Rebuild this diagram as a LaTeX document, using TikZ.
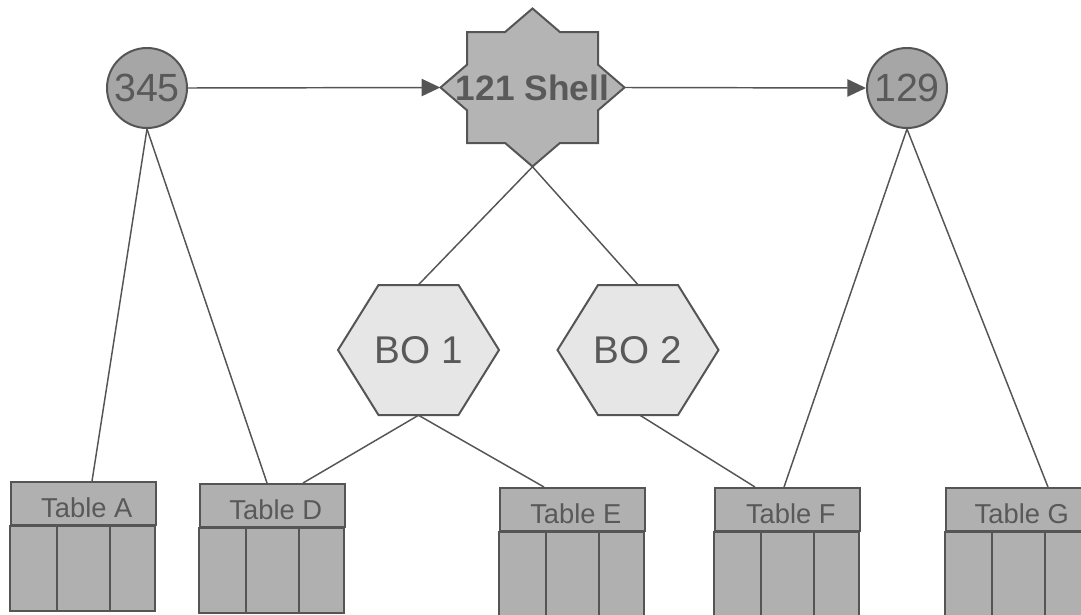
\documentclass[tikz,border=0pt]{standalone}
\usepackage{fontspec}
\setmainfont{Liberation Sans}
\usetikzlibrary{arrows.meta,shapes.geometric}
\definecolor{edgec}{HTML}{555555}
\definecolor{txtc}{HTML}{595959}
\definecolor{circfill}{HTML}{A6A6A6}
\definecolor{starfill}{HTML}{B4B4B4}
\definecolor{tabfill}{HTML}{B0B0B0}
\definecolor{hexfill}{HTML}{E6E6E6}
\tikzset{
  outline/.style={draw=edgec, line width=1.5pt, line join=miter},
  conn/.style={draw=edgec, line width=1.1pt},
  arr/.style={conn, -{Triangle[length=14pt,width=13pt]}},
  circ/.style={circle, outline, fill=circfill, minimum size=60pt, inner sep=0pt,
    text=txtc, font=\fontsize{29.5pt}{31pt}\selectfont},
  startext/.style={inner sep=0pt, minimum width=138pt, minimum height=118.5pt,
    text=txtc, font=\fontsize{26.5pt}{28pt}\selectfont\bfseries},
  hextext/.style={inner sep=0pt, minimum width=120.75pt, minimum height=97.5pt,
    text=txtc, font=\fontsize{29pt}{31pt}\selectfont},
  tabhead/.style={outline, fill=tabfill, anchor=north west, inner sep=0pt,
    minimum width=108.75pt, minimum height=32.25pt},
  tablabel/.style={text=txtc, inner sep=0pt, font=\fontsize{20.5pt}{22pt}\selectfont},
  tabbody/.style={outline, fill=tabfill},
}
\newcommand{\dbtab}[4]{%
  \node[tabhead] (#1) at (#2,#3) {};
  \node[tablabel] (#1label) at ([xshift=2.5pt,yshift=-3pt]#1.center) {#4};
  \draw[tabbody] (#1.south west) rectangle ++(145,85);
  \draw[outline] ([xshift=35.6pt]#1.south west) -- ++(0,85);
  \draw[outline] ([xshift=75pt]#1.south west) -- ++(0,85);
}
\begin{document}
\begin{tikzpicture}[x=0.75pt,y=-0.75pt]
\useasboundingbox (0,0) rectangle (1081,614);
\fill[white] (0,0) rectangle (1081,614);

% star
\draw[outline, fill=starfill] (532.5,8.5) -- (559.9,32) -- (598,32) -- (598,64.7)
  -- (624.5,87.5) -- (598,110.3) -- (598,143) -- (559.9,143) -- (532.5,166.5)
  -- (505.1,143) -- (467,143) -- (467,110.3) -- (440.5,87.5) -- (467,64.7)
  -- (467,32) -- (505.1,32) -- cycle;
\node[startext] (shell) at (532.5,87.5) {121 Shell};

% hexagons
\draw[outline, fill=hexfill] (338,350) -- (378.5,285) -- (458.5,285) -- (499,350)
  -- (458.5,415) -- (378.5,415) -- cycle;
\node[hextext] (bo1) at (418.5,350) {BO 1};
\draw[outline, fill=hexfill] (557.5,350) -- (598,285) -- (678,285) -- (718.5,350)
  -- (678,415) -- (598,415) -- cycle;
\node[hextext] (bo2) at (638,350) {BO 2};

% circles
\node[circ] (c345) at (147,88) {345};
\node[circ] (c129) at (907,88) {129};

% tables
\dbtab{tA}{10}{481}{Table A}
\dbtab{tD}{199}{483}{Table D}
\dbtab{tE}{499}{487}{Table E}
\dbtab{tF}{714}{487}{Table F}
\dbtab{tG}{945}{487}{Table G}

% arrows
\draw[arr] (c345.east) -- (shell.west);
\draw[arr] (shell.east) -- (c129.west);

% connectors
\draw[conn] (shell.south) -- (bo1.north);
\draw[conn] (shell.south) -- (bo2.north);
\draw[conn] (c345.south) -- ([xshift=6.4pt]tA.north);
\draw[conn] (c345.south) -- ([xshift=-4.1pt]tD.north);
\draw[conn] (bo1.south) -- ([xshift=22.9pt]tD.north);
\draw[conn] (bo1.south) -- ([xshift=-21.4pt]tE.north);
\draw[conn] ([xshift=1.5pt]bo2.south) -- ([xshift=-24.4pt]tF.north);
\draw[conn] (c129.south) -- ([xshift=-2.6pt]tF.north);
\draw[conn] (c129.south) -- ([xshift=22.1pt]tG.north);
\end{tikzpicture}
\end{document}
